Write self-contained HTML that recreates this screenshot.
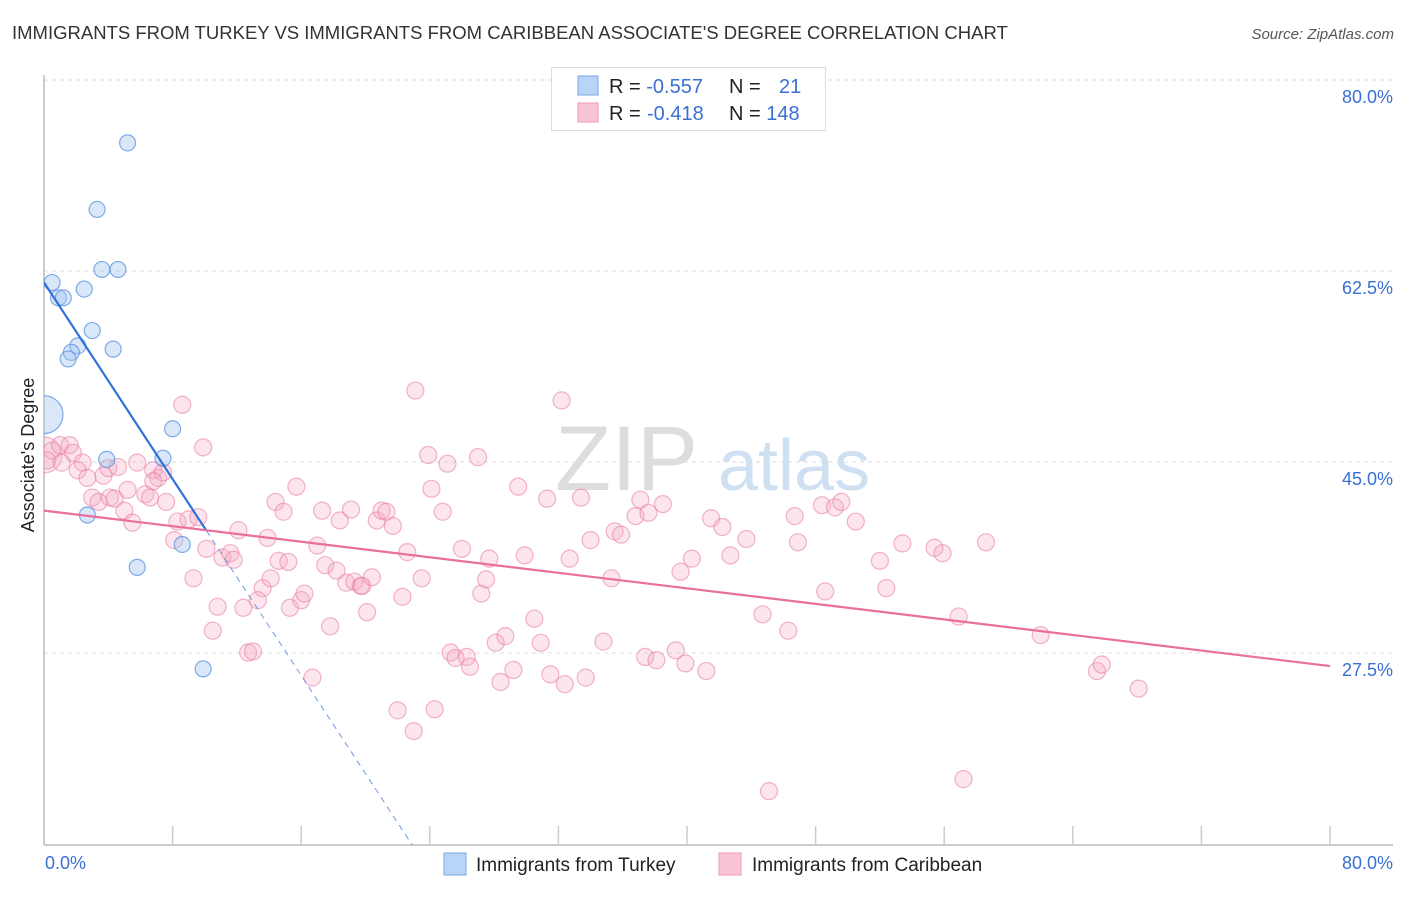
<!DOCTYPE html>
<html><head><meta charset="utf-8"><style>
body{margin:0;background:#fff;font-family:"Liberation Sans",sans-serif;}
svg text{font-family:"Liberation Sans",sans-serif;}
</style></head><body>
<svg width="1406" height="892" viewBox="0 0 1406 892" xmlns="http://www.w3.org/2000/svg">
<defs><clipPath id="pc"><rect x="44" y="60" width="1360" height="785"/></clipPath></defs>
<text x="12" y="39" font-size="18.5" fill="#333">IMMIGRANTS FROM TURKEY VS IMMIGRANTS FROM CARIBBEAN ASSOCIATE'S DEGREE CORRELATION CHART</text>
<text x="1394" y="39" font-size="15" fill="#555" font-style="italic" text-anchor="end">Source: ZipAtlas.com</text>
<g><text x="555" y="490" font-size="92" fill="#ddd" font-family="Liberation Serif">ZIP</text><text x="718" y="490" font-size="72" fill="#cfe0f3">atlas</text></g>
<g id="grid"></g>
<line x1="44" y1="75" x2="44" y2="845" stroke="#bbb" stroke-width="1.5"/>
<line x1="44" y1="845" x2="1393" y2="845" stroke="#bbb" stroke-width="1.5"/>
<g id="xticks"></g>
<text transform="translate(34,455) rotate(-90)" font-size="18" fill="#222" text-anchor="middle">Associate's Degree</text>
<text x="45" y="869" font-size="18" fill="#3a6fd6">0.0%</text>
<text x="1393" y="869" font-size="18" fill="#3a6fd6" text-anchor="end">80.0%</text>
<g id="marks" clip-path="url(#pc)"></g>
<g>
<rect x="551.5" y="67.5" width="274" height="63" fill="#fff" stroke="#ddd"/>
<rect x="578" y="76" width="20" height="19" fill="#b8d4f6" stroke="#7aa9e6"/>
<rect x="578" y="103" width="20" height="19" fill="#f9c5d6" stroke="#ee9ab8"/>
<text x="609" y="93" font-size="20" fill="#222">R = <tspan fill="#3a6fd6">-0.557</tspan></text>
<text x="729" y="93" font-size="20" fill="#222">N = <tspan x="779" fill="#3a6fd6">21</tspan></text>
<text x="609" y="120" font-size="20" fill="#222">R = <tspan x="647" fill="#3a6fd6">-0.418</tspan></text>
<text x="729" y="120" font-size="20" fill="#222">N = <tspan fill="#3a6fd6">148</tspan></text>
</g>
<g>
<rect x="444" y="853" width="22" height="22" fill="#b8d4f6" stroke="#7aa9e6"/>
<text x="476" y="871" font-size="19" fill="#222">Immigrants from Turkey</text>
<rect x="719" y="853" width="22" height="22" fill="#f9c5d6" stroke="#ee9ab8"/>
<text x="752" y="871" font-size="19" fill="#222">Immigrants from Caribbean</text>
</g>
</svg>
<script>
const yTicks=[80,62.5,45,27.5];
const yTickLabels=["80.0%","62.5%","45.0%","27.5%"];
const xTicks=[0,8,16,24,32,40,48,56,64,72,80];
const turkeyX=[5.2,3.3,3.6,4.6,0.5,2.5,0.9,1.2,3.0,2.1,1.7,4.3,1.5,0,8.0,3.9,7.4,2.7,8.6,5.8,9.9];
const turkeyY=[75.8,69.7,64.2,64.2,63.0,62.4,61.6,61.6,58.6,57.2,56.6,56.9,56.0,50.9,49.6,46.8,46.9,41.7,39.0,36.9,27.6];
const turkeyR=[8,8,8,8,8,8,8,8,8,8,8,8,8,19,8,8,8,8,8,8,8];
const caribX=[0,0.5,1.0,1.6,0.2,1.8,1.1,2.4,2.1,2.7,3.7,3.0,3.4,4.1,4.4,4.0,4.6,5.0,5.5,5.2,5.8,6.3,6.6,6.8,7.1,7.4,7.6,6.8,8.1,8.3,8.6,9.0,9.3,9.6,9.9,10.1,10.5,10.8,11.1,11.6,11.8,12.1,12.4,12.7,13.0,13.6,13.9,14.1,13.3,14.4,14.6,14.9,15.2,15.3,15.7,16.0,16.2,16.7,17.0,17.3,17.5,17.8,18.2,18.4,18.8,19.1,19.3,19.7,19.8,20.1,20.4,20.7,21.0,21.3,21.7,22.0,22.3,22.6,23.0,23.1,23.5,23.9,24.1,24.3,24.8,25.1,25.3,25.6,26.0,26.3,26.5,27.0,27.2,27.5,27.7,28.1,28.4,28.7,29.2,29.5,29.9,30.5,30.9,31.3,31.5,32.2,32.4,32.7,33.4,33.7,34.0,34.8,35.3,35.5,35.9,36.8,37.1,37.4,37.6,38.1,38.5,39.3,39.6,39.9,40.3,41.2,41.5,42.2,42.7,43.7,44.7,45.1,46.3,46.7,46.9,48.4,48.6,49.2,49.6,50.5,52.0,52.4,53.4,55.4,55.9,56.9,57.2,58.6,62.0,65.5,65.8,68.1];
const caribY=[47.2,47.6,48.1,48.1,46.7,47.4,46.5,46.5,45.8,45.1,45.3,43.3,42.9,43.3,43.2,46.0,46.1,42.1,41.0,44.0,46.5,43.6,43.3,45.8,45.1,45.6,42.9,44.8,39.4,41.1,51.8,41.3,35.9,41.5,47.9,38.6,31.1,33.3,37.8,38.2,37.6,40.3,33.2,29.1,29.2,35.0,39.6,35.9,33.9,42.9,37.5,42.0,37.4,33.2,44.3,33.9,34.5,26.8,38.9,42.1,37.1,31.5,36.6,41.2,35.5,42.2,35.6,35.2,35.2,32.8,36.0,41.2,42.1,42.0,40.7,23.8,34.2,38.3,21.9,53.1,35.9,47.2,44.1,23.9,42.0,46.4,29.1,28.6,38.6,28.7,27.8,47.0,34.5,35.8,37.7,30.0,26.4,30.6,27.5,44.3,38.0,32.2,30.0,43.2,27.1,52.2,26.2,37.7,43.3,26.8,39.4,30.1,35.9,40.2,39.9,41.6,43.1,28.7,41.9,28.4,42.7,29.3,36.5,28.1,37.7,27.4,41.4,40.6,38.0,39.5,32.6,16.4,31.1,41.6,39.2,42.6,34.7,42.4,42.9,41.1,37.5,35.0,39.1,38.7,38.2,32.4,17.5,39.2,30.7,27.4,28.0,25.8];
const turkeyTrend=[63.0,-2.25];
const caribTrend=[42.1,-0.178];
const NS="http://www.w3.org/2000/svg";
function xS(v){return 44+v*16.075;}
function yS(v){return 97+(80-v)*10.914;}
function mk(tag,at,parent){const e=document.createElementNS(NS,tag);for(const k in at)e.setAttribute(k,at[k]);parent.appendChild(e);return e;}
const grid=document.getElementById('grid');
yTicks.forEach((t,i)=>{
 const gy=yS(t)-17;
 const l=mk('line',{x1:44,x2:1393,y1:gy,y2:gy,stroke:'#ddd','stroke-dasharray':'4,4'},grid);
 
 
 const tx=mk('text',{x:1393,y:yS(t)+6,'font-size':18,fill:'#3a6fd6','text-anchor':'end'},grid);
 tx.textContent=yTickLabels[i];
 
 
});
const xt=document.getElementById('xticks');
xTicks.forEach(t=>{
 if(t===0)return;
 const l=mk('line',{x1:xS(t),x2:xS(t),y1:826,y2:845,stroke:'#ccc','stroke-width':1.5},xt);
 
 
});
const m=document.getElementById('marks');
caribX.forEach((x,i)=>{
 const r=i===0?18:8.5;
 const c=mk('circle',{cx:xS(x),cy:yS(caribY[i]),r:r,fill:'rgba(246,168,196,0.3)',stroke:'rgba(232,120,160,0.55)','stroke-width':1.2},m);
 
 
});
turkeyX.forEach((x,i)=>{
 const c=mk('circle',{cx:xS(x),cy:yS(turkeyY[i]),r:turkeyR[i],fill:'rgba(160,196,240,0.4)',stroke:'rgba(80,140,220,0.7)','stroke-width':1.2},m);
 
 
});
const tl=mk('line',{x1:xS(0),y1:yS(turkeyTrend[0]),x2:xS(10.1),y2:yS(turkeyTrend[0]+turkeyTrend[1]*10.1),stroke:'#2f72d9','stroke-width':2.2},m);


const tl2=mk('line',{x1:xS(10.1),y1:yS(turkeyTrend[0]+turkeyTrend[1]*10.1),x2:xS(22.9),y2:yS(turkeyTrend[0]+turkeyTrend[1]*22.9),stroke:'#6b9be0','stroke-width':1,'stroke-dasharray':'6,5'},m);


const cl=mk('line',{x1:xS(0),y1:yS(caribTrend[0]),x2:xS(80),y2:yS(caribTrend[0]+caribTrend[1]*80),stroke:'#e8709a','stroke-width':2.2},m);


</script>
</body></html>
